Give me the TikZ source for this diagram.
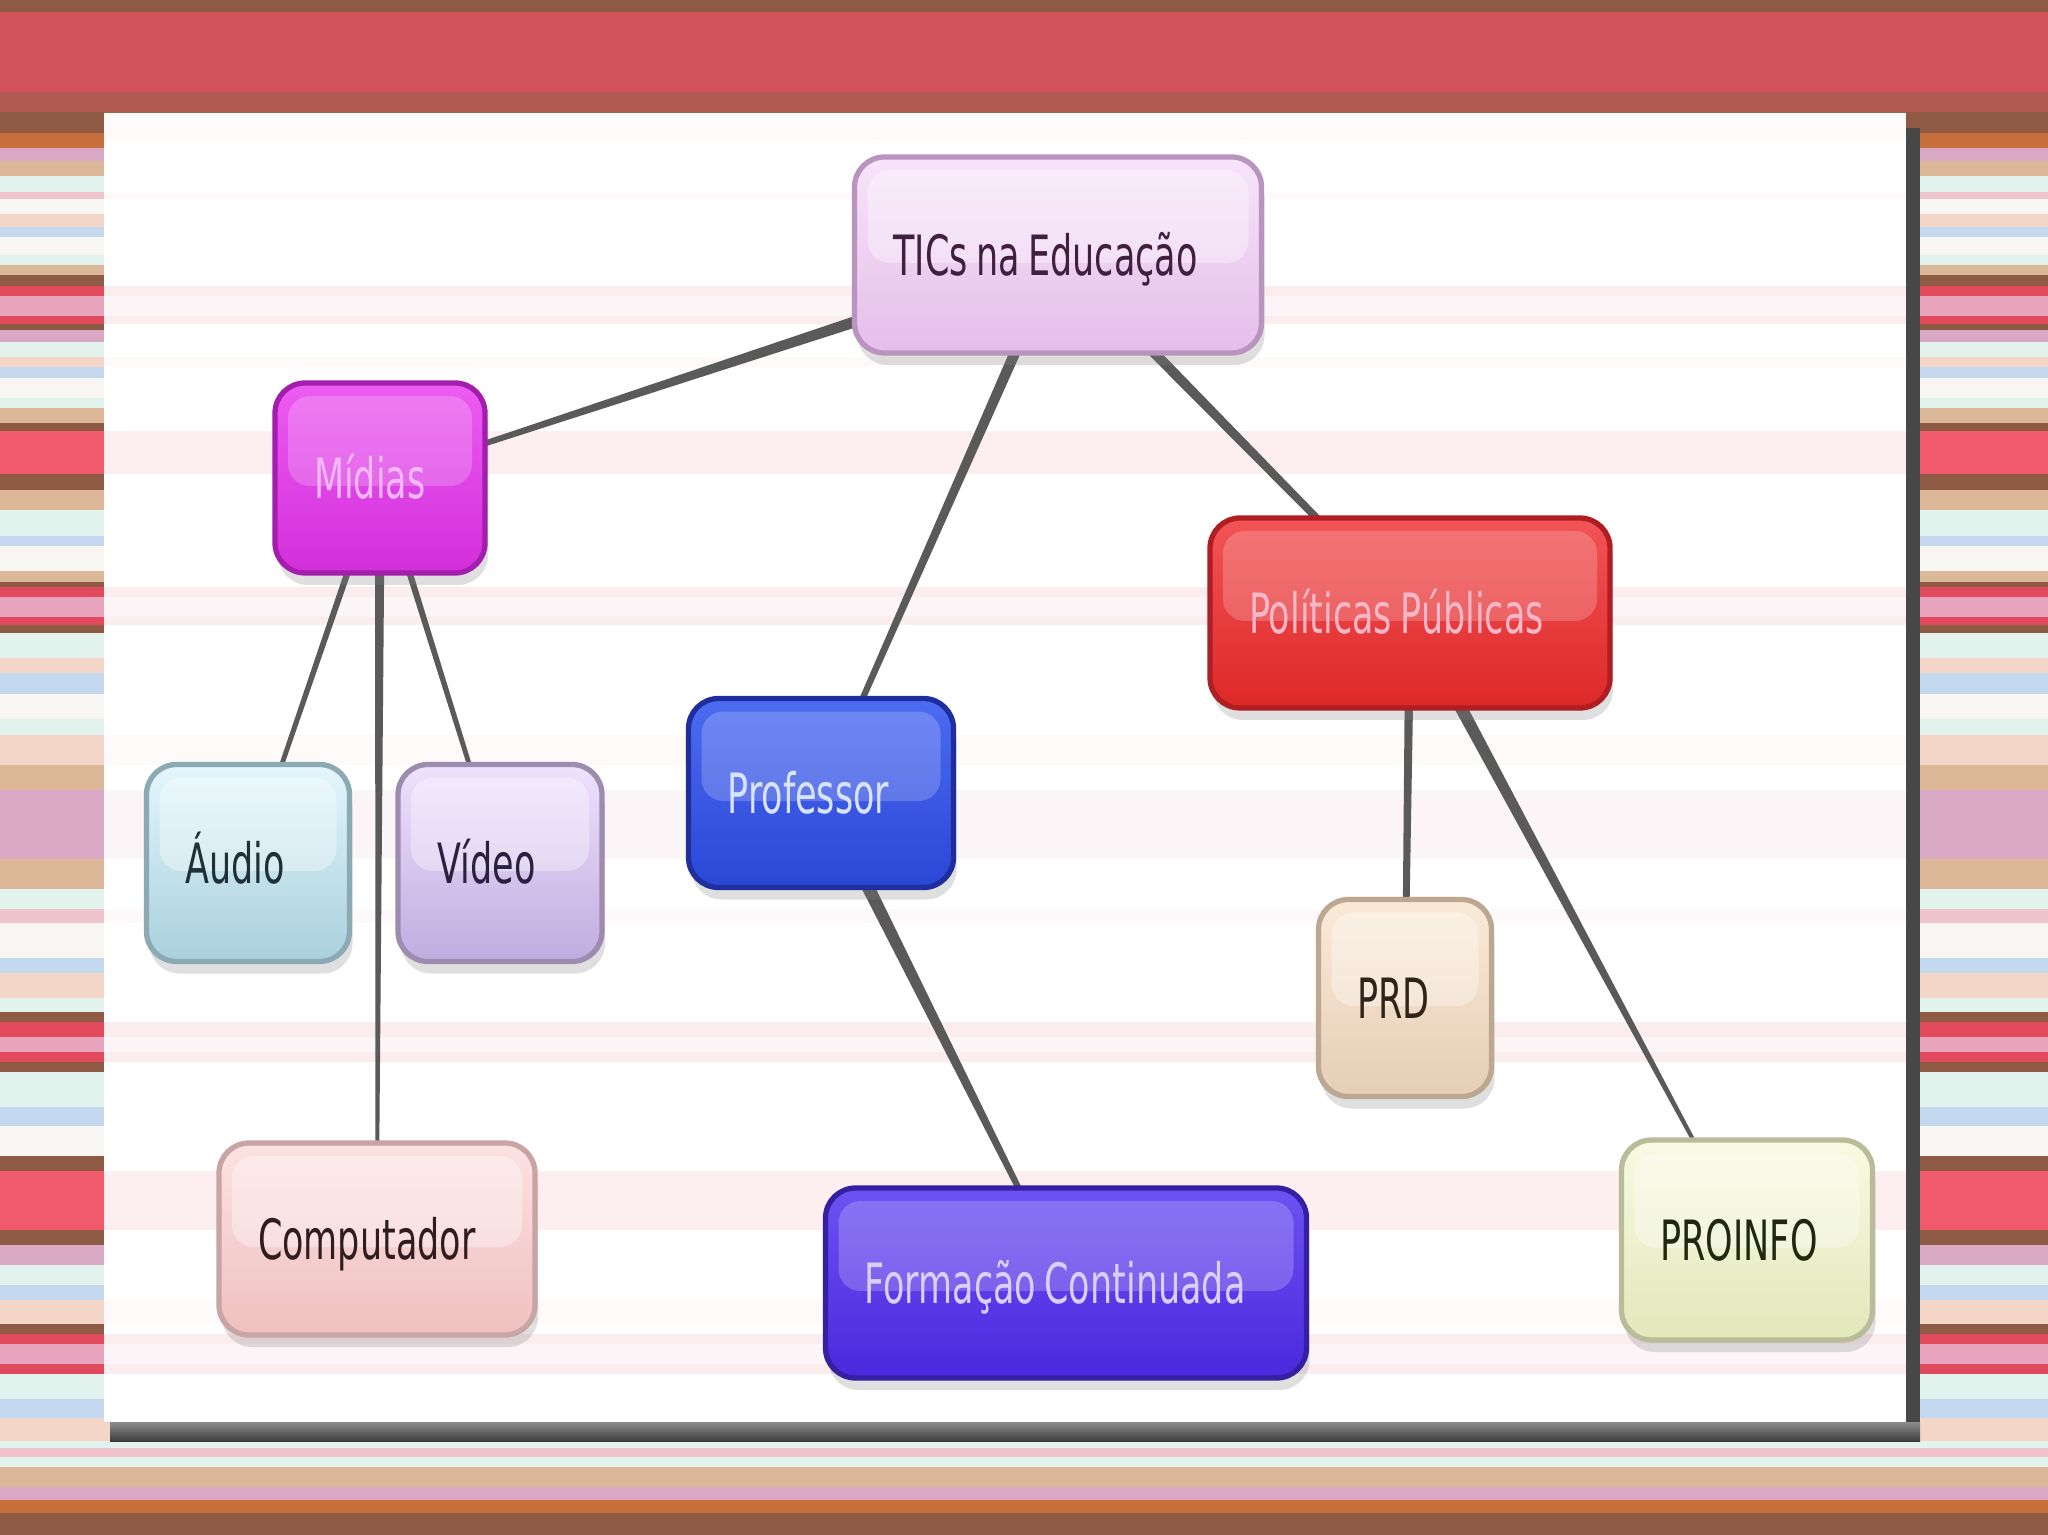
\documentclass[tikz,border=0pt]{standalone}
\usepackage{fontspec}
\usepackage{xcolor}
\usepackage{tikz}
\usetikzlibrary{calc,shadows}
\newfontfamily\mapfont{DejaVu Sans}[FakeStretch=0.63]
\DeclareRobustCommand\mapface{\mapfont\fontsize{15.8}{19}\selectfont\parindent 0pt\relax}
\newcommand\gap{\hspace{2.4pt}}
% stripes of the slide background
\definecolor{sbrown}{HTML}{8E5A44}
\definecolor{sredbrown}{HTML}{B05A52}
\definecolor{sred}{HTML}{D25259}
\definecolor{sredb}{HTML}{E04A5C}
\definecolor{sredc}{HTML}{F05A6C}
\definecolor{spink}{HTML}{E8A4BC}
\definecolor{slav}{HTML}{D8A8C4}
\definecolor{stan}{HTML}{DCB898}
\definecolor{smint}{HTML}{E2F2EC}
\definecolor{swhite}{HTML}{F8F6F2}
\definecolor{speach}{HTML}{F4D6C8}
\definecolor{sblue}{HTML}{C4D8F0}
\definecolor{sorange}{HTML}{C8703C}
\definecolor{srose}{HTML}{F0C4CC}
% concept boxes
\definecolor{ink}{HTML}{5A5A5A}
\definecolor{ticsA}{HTML}{F8E4FA}\definecolor{ticsB}{HTML}{E4BEEA}\definecolor{ticsC}{HTML}{B894BE}\definecolor{ticsT}{HTML}{40203E}
\definecolor{midA}{HTML}{EC5CF2}\definecolor{midB}{HTML}{D22EDA}\definecolor{midC}{HTML}{A41EAE}\definecolor{midT}{HTML}{F2B8F8}
\definecolor{polA}{HTML}{F25456}\definecolor{polB}{HTML}{DE2828}\definecolor{polC}{HTML}{AE1E22}\definecolor{polT}{HTML}{F6B8C8}
\definecolor{proA}{HTML}{4C6CF2}\definecolor{proB}{HTML}{2A46D6}\definecolor{proC}{HTML}{1E2E9C}\definecolor{proT}{HTML}{D8E4FF}
\definecolor{forA}{HTML}{6C52F2}\definecolor{forB}{HTML}{4A28DE}\definecolor{forC}{HTML}{3420A0}\definecolor{forT}{HTML}{D8D0FF}
\definecolor{audA}{HTML}{E4F6FC}\definecolor{audB}{HTML}{A8D0DC}\definecolor{audC}{HTML}{8CAAB4}\definecolor{audT}{HTML}{1E3038}
\definecolor{vidA}{HTML}{EEE2FC}\definecolor{vidB}{HTML}{C0ACE0}\definecolor{vidC}{HTML}{9C8CB0}\definecolor{vidT}{HTML}{2A2040}
\definecolor{prdA}{HTML}{FAEAD8}\definecolor{prdB}{HTML}{E6CEB6}\definecolor{prdC}{HTML}{BCA890}\definecolor{prdT}{HTML}{302418}
\definecolor{comA}{HTML}{FCE2E2}\definecolor{comB}{HTML}{F0C0C0}\definecolor{comC}{HTML}{C8A4A4}\definecolor{comT}{HTML}{301E1E}
\definecolor{pinA}{HTML}{F8FAE2}\definecolor{pinB}{HTML}{E2E8BA}\definecolor{pinC}{HTML}{B8BC98}\definecolor{pinT}{HTML}{202810}
\pgfdeclarelayer{back}
\pgfdeclarelayer{wires}
\pgfsetlayers{back,wires,main}
\tikzset{
  concept/.style={rounded corners=3mm,line width=1.5pt,inner xsep=3.9mm,
    minimum height=19.2mm,text height=11.5pt,text depth=0pt,font=\mapface,
    drop shadow={shadow xshift=0.3mm,shadow yshift=-1.2mm,opacity=0.25}},
  tint/.style n args={4}{top color=#1,bottom color=#2,draw=#3,text=#4},
  gloss/.style={path picture={\fill[white,opacity=#1,rounded corners=2.2mm]
    ($(path picture bounding box.north west)+(1.3mm,-1.3mm)$) rectangle
    ($(path picture bounding box.east)+(-1.3mm,-0.8mm)$);}},
  wire/.style={fill=ink}
}
\newcommand\taperlink[4]{%
  \fill[wire] ($(#1.center)!#3!90:(#2.center)$) -- ($(#2.center)!#4!-90:(#1.center)$)
    -- ($(#2.center)!#4!90:(#1.center)$) -- ($(#1.center)!#3!-90:(#2.center)$) -- cycle;}

\begin{document}
\begin{tikzpicture}[x=0.1mm,y=-0.1mm]
  \useasboundingbox (0,0) rectangle (2048,1535);
  \begin{pgfonlayer}{back}
    \foreach \ya/\yb/\c in {0/12/sbrown,12/92/sred,92/112/sredbrown,112/133/sbrown,133/148/sorange,
      148/161/slav,161/176/stan,176/192/smint,192/199/srose,199/214/swhite,214/227/speach,
      227/237/sblue,237/255/swhite,255/265/smint,265/275/stan,275/286/sbrown,286/296/sredb,
      296/316/spink,316/324/sredb,324/330/sbrown,330/342/slav,342/357/smint,357/367/speach,
      367/378/sblue,378/398/swhite,398/408/smint,408/423/stan,423/431/sbrown,431/474/sredc,
      474/490/sbrown,490/510/stan,510/536/smint,536/546/sblue,546/571/swhite,571/582/stan,
      582/587/sbrown,587/597/sredb,597/617/spink,617/625/sredb,625/633/sbrown,633/658/smint,
      658/673/speach,673/694/sblue,694/719/swhite,719/735/smint,735/765/speach,765/790/stan,
      790/859/slav,859/889/stan,889/909/smint,909/923/srose,923/958/swhite,958/973/sblue,
      973/998/speach,998/1012/smint,1012/1022/sbrown,1022/1037/sredb,1037/1052/spink,
      1052/1062/sredb,1062/1072/sbrown,1072/1107/smint,1107/1126/sblue,1126/1156/swhite,
      1156/1171/sbrown,1171/1230/sredc,1230/1245/sbrown,1245/1265/slav,1265/1285/smint,
      1285/1300/sblue,1300/1324/speach,1324/1334/sbrown,1334/1344/sredb,1344/1364/spink,
      1364/1374/sredb,1374/1399/smint,1399/1418/sblue,1418/1441/speach,1441/1448/smint,
      1448/1457/srose,1457/1467/smint,1467/1487/stan,1487/1500/slav,1500/1513/sorange,
      1513/1535/sbrown}
      \fill[\c] (0,\ya) rectangle (2048,\yb);
    % panel with its shadow
    \fill[black!72] (1906,128) rectangle (1920,1441);
    \shade[top color=black!45,bottom color=black!76] (110,1422) rectangle (1920,1441);
    \fill[white] (104,113) rectangle (1906,1422);
    \begin{scope}
      \clip (104,113) rectangle (1906,1422);
      \foreach \ya/\yb/\c in {112/140/speach,192/199/srose,
        286/296/sredb,296/316/spink,316/324/sredb,357/367/speach,431/474/sredc,
        587/597/sredb,597/617/spink,617/625/sredb,735/765/speach,790/859/spink,
        909/923/srose,1022/1037/sredb,1037/1052/spink,1052/1062/sredb,1171/1230/sredc,
        1300/1324/speach,1334/1344/sredb,1344/1364/spink,1364/1374/sredb}
        \fill[\c,opacity=0.1] (104,\ya) rectangle (1906,\yb);
    \end{scope}
  \end{pgfonlayer}

  \node[concept,tint={ticsA}{ticsB}{ticsC}{ticsT},gloss=0.35,text width=32.9mm,minimum height=19.6mm] (tics) at (1058,255) {TICs\gap na\gap Educação};
  \node[concept,tint={midA}{midB}{midC}{midT},gloss=0.2,text width=13.2mm,minimum height=19mm] (midias) at (380,478) {Mídias};
  \node[concept,tint={polA}{polB}{polC}{polT},gloss=0.2,text width=32.2mm,minimum height=19mm] (polit) at (1410,613) {Políticas\gap Públicas};
  \node[concept,tint={proA}{proB}{proC}{proT},gloss=0.2,text width=18.7mm,minimum height=18.9mm] (prof) at (821,793) {Professor};
  \node[concept,tint={audA}{audB}{audC}{audT},gloss=0.35,text width=12.5mm,minimum height=19.7mm] (audio) at (248,863) {Áudio};
  \node[concept,tint={vidA}{vidB}{vidC}{vidT},gloss=0.35,text width=12.6mm,minimum height=19.7mm] (video) at (500,863) {Vídeo};
  \node[concept,tint={prdA}{prdB}{prdC}{prdT},gloss=0.35,text width=9.5mm,minimum height=19.7mm] (prd) at (1405,998) {PRD};
  \node[concept,tint={comA}{comB}{comC}{comT},gloss=0.35,text width=23.8mm] (comp) at (377,1239) {Computador};
  \node[concept,tint={forA}{forB}{forC}{forT},gloss=0.2,text width=40.3mm,minimum height=19mm] (form) at (1066,1283) {Formação\gap Continuada};
  \node[concept,tint={pinA}{pinB}{pinC}{pinT},gloss=0.35,text width=17.3mm,minimum height=20mm] (proinfo) at (1747,1240) {PROINFO};

  \begin{pgfonlayer}{wires}
    \taperlink{tics}{midias}{2.0pt}{0.6pt}
    \taperlink{tics}{prof}{1.7pt}{0.7pt}
    \taperlink{tics}{polit}{1.7pt}{0.85pt}
    \taperlink{midias}{audio}{1.0pt}{0.57pt}
    \taperlink{midias}{video}{1.0pt}{0.57pt}
    \taperlink{midias}{comp}{1.4pt}{0.43pt}
    \taperlink{prof}{form}{2.1pt}{0.57pt}
    \taperlink{polit}{prd}{1.3pt}{0.85pt}
    \taperlink{polit}{proinfo}{2.0pt}{0.3pt}
  \end{pgfonlayer}
\end{tikzpicture}
\end{document}
